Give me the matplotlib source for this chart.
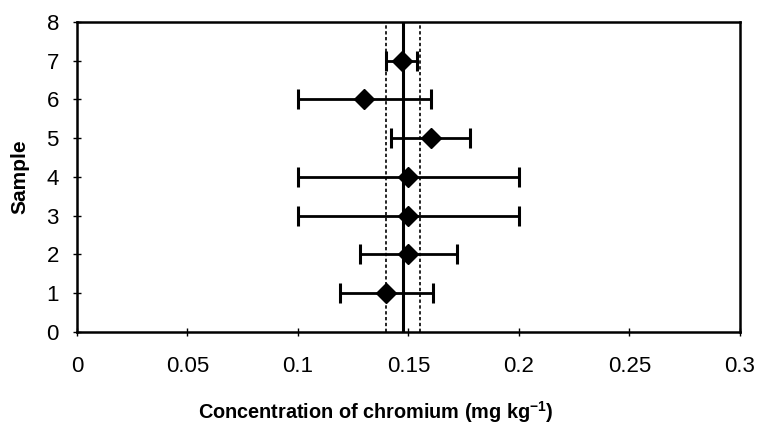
import matplotlib
matplotlib.use("Agg")
from matplotlib import pyplot as plt

# chromium results per sample (mg/kg) with their uncertainties
samples = [1, 2, 3, 4, 5, 6, 7]
conc = [0.140, 0.150, 0.150, 0.150, 0.160, 0.130, 0.147]
err = [0.021, 0.022, 0.050, 0.050, 0.018, 0.030, 0.007]

# assigned value and its uncertainty band
ref_value = 0.1474
ref_unc = 0.0077

plt.rcParams['font.family'] = ['Liberation Sans', 'DejaVu Sans']

fig = plt.figure(figsize=(7.59, 4.26), dpi=100)
ax = fig.add_axes([0.1014, 0.2207, 0.8735, 0.7277])

ax.plot([ref_value, ref_value], [0, 8], color='black', lw=2.2)
ax.plot([ref_value - ref_unc] * 2, [0, 8], color='black', lw=1.2, ls=(0, (2, 1.5)))
ax.plot([ref_value + ref_unc] * 2, [0, 8], color='black', lw=1.2, ls=(0, (2, 1.5)))

ax.errorbar(conc, samples, xerr=err, fmt='D', color='black', ms=10,
            ecolor='black', elinewidth=2, capsize=7, capthick=2.2, zorder=5)

ax.set_xlim(0, 0.3)
ax.set_ylim(0, 8)
ax.set_xticks([0, 0.05, 0.1, 0.15, 0.2, 0.25, 0.3])
ax.set_xticklabels(['0', '0.05', '0.1', '0.15', '0.2', '0.25', '0.3'])
ax.set_yticks(range(9))

for s in ax.spines.values():
    s.set_linewidth(1.8)
ax.tick_params(direction='inout', length=6, width=1, labelsize=16)
ax.tick_params(axis='x', pad=14)
ax.tick_params(axis='y', pad=10)

ax.set_xlabel('Concentration of chromium (mg kg$^{\\mathregular{-1}}$)', fontsize=14.3,
              fontweight='bold')
ax.xaxis.set_label_coords(0.45, -0.215)
ax.set_ylabel('Sample', fontsize=15, fontweight='bold', labelpad=12)

fig.savefig('out.png', dpi=100)
